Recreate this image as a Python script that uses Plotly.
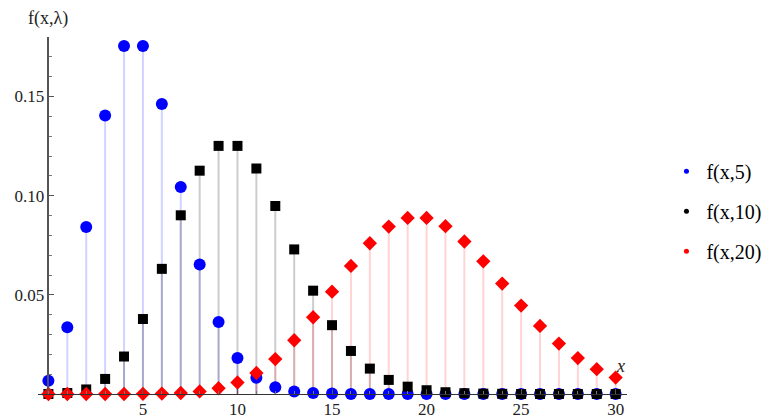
import plotly.graph_objects as go

x_vals = list(range(0, 31))
f5 = [0.0067, 0.0337, 0.0842, 0.1404, 0.1755, 0.1755, 0.1462, 0.1044, 0.0653, 0.0363,
      0.0181, 0.0082, 0.0034, 0.0013, 0.0005, 0.0002, 0.0000, 0.0000, 0.0000, 0.0000,
      0.0000, 0.0000, 0.0000, 0.0000, 0.0000, 0.0000, 0.0000, 0.0000, 0.0000, 0.0000, 0.0000]
f10 = [0.0000, 0.0005, 0.0023, 0.0076, 0.0189, 0.0378, 0.0631, 0.0901, 0.1126, 0.1251,
       0.1251, 0.1137, 0.0948, 0.0729, 0.0521, 0.0347, 0.0217, 0.0128, 0.0071, 0.0037,
       0.0019, 0.0009, 0.0004, 0.0002, 0.0001, 0.0000, 0.0000, 0.0000, 0.0000, 0.0000, 0.0000]
f20 = [0.0000, 0.0000, 0.0000, 0.0000, 0.0000, 0.0001, 0.0002, 0.0005, 0.0013, 0.0029,
       0.0058, 0.0106, 0.0176, 0.0271, 0.0387, 0.0516, 0.0646, 0.0760, 0.0844, 0.0888,
       0.0888, 0.0846, 0.0769, 0.0669, 0.0557, 0.0446, 0.0343, 0.0254, 0.0181, 0.0125, 0.0083]

series_names = ["f(x,5)", "f(x,10)", "f(x,20)"]
series_vals = [f5, f10, f20]
point_colors = ["#0000ff", "#000000", "#ff0000"]
stem_colors = ["rgba(80,80,255,0.25)", "rgba(0,0,0,0.2)", "rgba(255,60,60,0.22)"]
symbols = ["circle", "square", "diamond"]
sizes = [12, 10, 11]

ytick_vals = [0.05, 0.10, 0.15]
ytick_text = ["0.05", "0.10", "0.15"]
xtick_vals = [5, 10, 15, 20, 25, 30]

FONT = "Liberation Serif, Times New Roman, serif"

fig = go.Figure()

# stems
for vals, sc in zip(series_vals, stem_colors):
    sx, sy = [], []
    for xv, v in zip(x_vals, vals):
        sx += [xv, xv, None]
        sy += [0, v, None]
    fig.add_trace(go.Scatter(x=sx, y=sy, mode="lines", line=dict(color=sc, width=2),
                             showlegend=False, hoverinfo="skip", cliponaxis=False))

# points
for name, vals, pc, sym, sz in zip(series_names, series_vals, point_colors, symbols, sizes):
    fig.add_trace(go.Scatter(x=x_vals, y=vals, mode="markers",
                             marker=dict(color=pc, symbol=sym, size=sz, line=dict(width=0)),
                             showlegend=False, cliponaxis=False, name=name))

# legend entries (small dots)
for i, (name, pc) in enumerate(zip(series_names, point_colors)):
    fig.add_trace(go.Scatter(x=[None], y=[None], mode="markers", name=name,
                             marker=dict(color=pc, symbol="circle", size=5),
                             legendgroup=str(i), showlegend=True))

fig.update_layout(
    width=771, height=419,
    margin=dict(l=38, r=144, t=37, b=25, autoexpand=False),
    paper_bgcolor="white", plot_bgcolor="white",
    font=dict(family=FONT, size=17, color="black"),
    legend=dict(x=1.067, y=0.512, xanchor="left", yanchor="middle",
                font=dict(family=FONT, size=20, color="black"),
                traceorder="grouped", tracegroupgap=11, itemsizing="trace",
                bgcolor="rgba(0,0,0,0)"),
    xaxis=dict(range=[-0.55, 30.6], showgrid=False, zeroline=False,
               showline=True, linecolor="#333333", linewidth=1,
               tickvals=xtick_vals, ticks="inside", ticklen=5, tickcolor="#555555",
               minor=dict(ticks="inside", dtick=1, ticklen=3, tickcolor="#777777"),
               tickfont=dict(family=FONT, size=17, color="#222222")),
    yaxis=dict(range=[0, 0.18], showgrid=False, zeroline=False,
               anchor="free", position=0.55 / 31.15,
               showline=True, linecolor="#555555", linewidth=1.5,
               tickvals=ytick_vals, ticktext=ytick_text,
               ticks="inside", ticklen=5, tickcolor="#555555",
               minor=dict(ticks="inside", dtick=0.01, ticklen=3, tickcolor="#777777"),
               tickfont=dict(family=FONT, size=17, color="#222222")),
    annotations=[
        dict(x=0, xref="x", y=1, yref="paper", text="f(x,λ)", showarrow=False,
             xanchor="center", yanchor="bottom", yshift=6,
             font=dict(family=FONT, size=18, color="#222222")),
        dict(x=1, xref="paper", y=0, yref="paper", text="<i>x</i>", showarrow=False,
             xanchor="right", yanchor="bottom", yshift=16,
             font=dict(family=FONT, size=18, color="#222222")),
    ],
)

fig.write_html("out.html")
